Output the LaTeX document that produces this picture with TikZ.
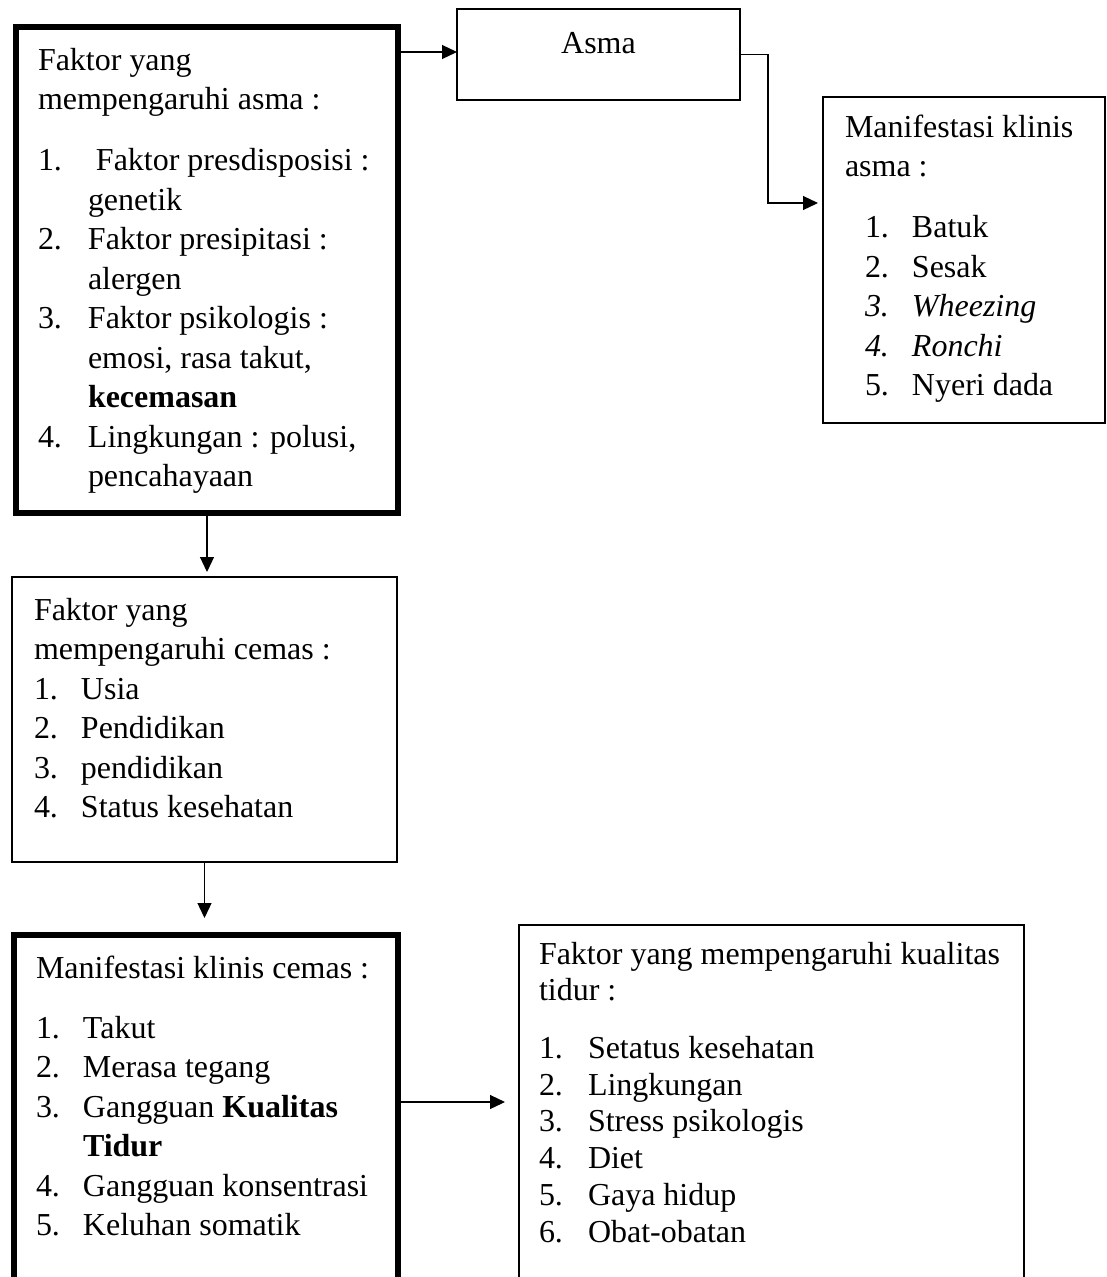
\documentclass[tikz,border=0pt]{standalone}
\usepackage{fontspec}
\setmainfont{Liberation Serif}
\usepackage{tikz}
\usetikzlibrary{arrows.meta, positioning}

\begin{document}
\begin{tikzpicture}
    \tikzstyle{listbox} = [rectangle, draw=black, line width=1.2pt, outer sep=0pt, inner ysep=0pt, inner xsep=0.44cm, align=flush left, anchor=north west, font=\fontsize{18.2pt}{22.5pt}\selectfont]
    \tikzstyle{thickbox} = [listbox, line width=3.4pt]
    \tikzstyle{arrow} = [line width=0.7pt, -{Triangle[length=0.3cm, width=0.28cm]}]

    \useasboundingbox (0,0) rectangle (22.14,-25.54);

    \node (faktorasma) [thickbox, text width=6.76cm, text height=0.86cm, text depth=8.86cm] at (0.32,-0.54) {Faktor yang\\
        mempengaruhi asma :\\[0.43cm]
        \mbox{\makebox[1.16cm][l]{1.}Faktor presdisposisi :}\\
        \hspace*{1cm}genetik\\
        \makebox[1cm][l]{2.}Faktor presipitasi :\\
        \hspace*{1cm}alergen\\
        \makebox[1cm][l]{3.}Faktor psikologis :\\
        \hspace*{1cm}emosi, rasa takut,\\
        \hspace*{1cm}\textbf{kecemasan}\\
        \makebox[1cm][l]{4.}Lingkungan : polusi,\\
        \hspace*{1cm}pencahayaan};
    \node (asma) [listbox, minimum width=5.66cm, text height=0.88cm, text depth=0.94cm, right=1.18cm of faktorasma.north east, anchor=north west, yshift=0.36cm] {Asma};
    \node (manifestasma) [listbox, text width=4.76cm, text height=0.8cm, text depth=5.72cm, right=1.66cm of asma.north east, anchor=north west, yshift=-1.76cm] {\mbox{Manifestasi klinis}\\
        asma :\\[0.43cm]
        \hspace*{0.4cm}\makebox[0.94cm][l]{1.}Batuk\\
        \hspace*{0.4cm}\makebox[0.94cm][l]{2.}Sesak\\
        \hspace*{0.4cm}\makebox[0.94cm][l]{\textit{3.}}\textit{Wheezing}\\
        \hspace*{0.4cm}\makebox[0.94cm][l]{\textit{4.}}\textit{Ronchi}\\
        \hspace*{0.4cm}\makebox[0.94cm][l]{5.}Nyeri dada};
    \node (faktorcemas) [listbox, text width=6.82cm, text height=0.86cm, text depth=4.84cm, below=1.28cm of faktorasma.south west, anchor=north west, xshift=-0.08cm] {Faktor yang\\
        mempengaruhi cemas :\\
        \makebox[0.94cm][l]{1.}Usia\\
        \makebox[0.94cm][l]{2.}Pendidikan\\
        \makebox[0.94cm][l]{3.}pendidikan\\
        \makebox[0.94cm][l]{4.}Status kesehatan};
    \node (manifestcemas) [thickbox, text width=6.8cm, text height=0.86cm, text depth=6.44cm, below=1.46cm of faktorcemas.south west, anchor=north west, xshift=0.04cm] {\mbox{Manifestasi klinis cemas :}\\[0.41cm]
        \makebox[0.94cm][l]{1.}Takut\\
        \makebox[0.94cm][l]{2.}Merasa tegang\\
        \makebox[0.94cm][l]{3.}Gangguan \textbf{Kualitas}\\
        \hspace*{0.94cm}\textbf{Tidur}\\
        \mbox{\makebox[0.94cm][l]{4.}Gangguan konsentrasi}\\
        \makebox[0.94cm][l]{5.}Keluhan somatik};
    \node (faktortidur) [listbox, inner xsep=0.4cm, text width=9.3cm, text height=0.78cm, text depth=6.72cm, font=\fontsize{18.2pt}{20.9pt}\selectfont, right=2.42cm of manifestcemas.north east, anchor=north west, yshift=0.2cm] {\mbox{Faktor yang mempengaruhi kualitas}\\
        tidur :\\[0.42cm]
        \makebox[0.98cm][l]{1.}Setatus kesehatan\\
        \makebox[0.98cm][l]{2.}Lingkungan\\
        \makebox[0.98cm][l]{3.}Stress psikologis\\
        \makebox[0.98cm][l]{4.}Diet\\
        \makebox[0.98cm][l]{5.}Gaya hidup\\
        \makebox[0.98cm][l]{6.}Obat-obatan};

    \draw [arrow] ([yshift=-0.5cm]faktorasma.north east) -- ([yshift=-0.5cm]faktorasma.north east -| asma.west);
    \draw [arrow, shorten >=0.1cm] (asma.east) -- ++(0.56,0) |- ([yshift=-2.12cm]manifestasma.north west);
    \draw [arrow, shorten >=0.1cm] (faktorasma.south) -- (faktorasma.south |- faktorcemas.north);
    \draw [arrow, shorten >=0.34cm] (faktorcemas.south) -- (faktorcemas.south |- manifestcemas.north);
    \draw [arrow, shorten >=0.28cm] ([yshift=-3.34cm]manifestcemas.north east) -- ([yshift=-3.34cm]manifestcemas.north east -| faktortidur.west);

\end{tikzpicture}
\end{document}
